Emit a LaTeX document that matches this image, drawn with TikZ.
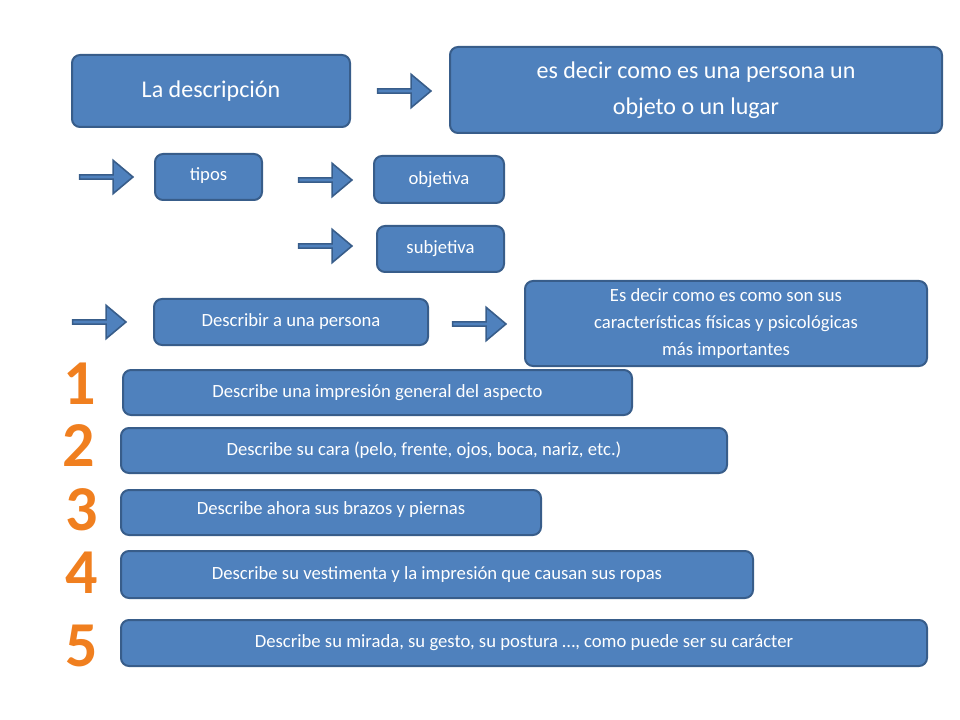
\documentclass[tikz,border=0pt]{standalone}
\usepackage{fontspec}
\setmainfont{Carlito}
\usetikzlibrary{shapes.arrows}
\definecolor{bfill}{HTML}{4F81BD}
\definecolor{bline}{HTML}{385D8A}
\definecolor{numor}{HTML}{F07F1F}
\begin{document}
\begin{tikzpicture}[x=0.75pt,y=-0.75pt,
 box/.style={draw=bline,line width=1.5pt,fill=bfill,rounded corners=6pt,text=white,align=center},
 barrow/.style={single arrow,draw=bline,line width=1.2pt,fill=bfill,minimum width=25pt,minimum height=40pt,single arrow head extend=4pt,inner sep=0pt,single arrow tip angle=80},
 num/.style={text=numor,font=\fontsize{48}{48}\selectfont\bfseries}]
\useasboundingbox (0,0) rectangle (960,720);
\newcommand\bx[6]{\node[box,font=\fontsize{#6}{#6}\selectfont,minimum width={(#4-#2)*0.75pt},minimum height={(#5-#3)*0.75pt},inner sep=1pt] (#1) at ({(#2+#4)/2},{(#3+#5)/2}) {};}
\bx{a}{72}{55}{350}{127}{18}
\node[white,font=\fontsize{18}{22}\selectfont] at (a) {La descripción};
\bx{b}{450}{47}{942}{133}{18}
\node[white,align=center,font=\fontsize{18}{27}\selectfont] at (b) {es decir como es una persona un\\objeto o un lugar};
\bx{t}{155}{154}{262}{200}{14}
\node[white,font=\fontsize{14}{17}\selectfont] at ([yshift=1pt]t) {tipos};
\bx{o}{374}{156}{504}{203}{14}
\node[white,font=\fontsize{14}{17}\selectfont] at (o) {objetiva};
\bx{s}{377}{226}{504}{272}{14}
\node[white,font=\fontsize{14}{17}\selectfont] at (s) {subjetiva};
\bx{d}{154}{299}{428}{345}{14}
\node[white,font=\fontsize{14}{17}\selectfont] at (d) {Describir a una persona};
\bx{e}{525}{281}{927}{366}{14}
\node[white,align=center,font=\fontsize{14}{20}\selectfont] at (e) {Es decir como es como son sus\\características físicas y psicológicas\\más importantes};
\bx{p1}{123}{370}{632}{415}{14}
\node[white,font=\fontsize{14}{17}\selectfont] at (p1) {Describe una impresión general del aspecto};
\bx{p2}{121}{428}{727}{473}{14}
\node[white,font=\fontsize{14}{17}\selectfont] at (p2) {Describe su cara (pelo, frente, ojos, boca, nariz, etc.)};
\bx{p3}{121}{490}{541}{535}{14}
\node[white,font=\fontsize{14}{17}\selectfont] at ([yshift=2pt]p3) {Describe ahora sus brazos y piernas};
\bx{p4}{121}{551}{753}{598}{14}
\node[white,font=\fontsize{14}{17}\selectfont] at (p4) {Describe su vestimenta y la impresión que causan sus ropas};
\bx{p5}{121}{620}{927}{666}{14}
\node[white,font=\fontsize{14}{17}\selectfont] at (p5) {Describe su mirada, su gesto, su postura …, como puede ser su carácter};
\node[barrow] (r1) at (403,91) {};
\node[barrow] (r2) at (105,177) {};
\node[barrow] (r3) at (324,180) {};
\node[barrow] (r4) at (324,246) {};
\node[barrow] (r5) at (98,322) {};
\node[barrow] (r6) at (478,324) {};
\node[num] (n1) at (80,384) {1};
\node[num] (n2) at (79,446) {2};
\node[num] (n3) at (82,510) {3};
\node[num] (n4) at (82,573) {4};
\node[num] (n5) at (82,646) {5};
\end{tikzpicture}
\end{document}
